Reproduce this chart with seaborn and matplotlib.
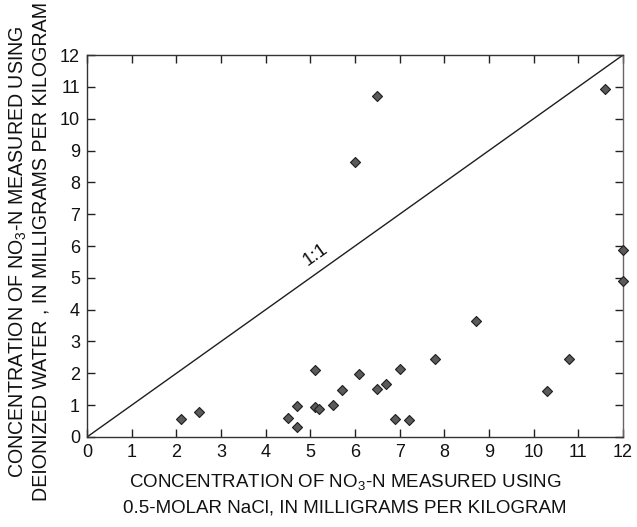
import matplotlib
matplotlib.use("Agg")
import matplotlib.pyplot as plt
import seaborn as sns
import pandas as pd

# NO3-N measured with 0.5-molar NaCl extraction (x) vs deionized water (y), mg/kg
nacl_mgkg = [2.1, 2.5, 4.5, 4.7, 4.7, 5.1, 5.1, 5.2, 5.5, 5.7, 6.1, 6.5, 6.7,
             7.0, 6.9, 7.2, 7.8, 8.7, 10.3, 10.8, 12.0, 12.0, 11.6, 6.5, 6.0]
water_mgkg = [0.55, 0.8, 0.6, 0.97, 0.3, 2.1, 0.95, 0.87, 1.0, 1.47, 1.98, 1.5, 1.66,
              2.14, 0.57, 0.53, 2.44, 3.65, 1.45, 2.46, 4.89, 5.86, 10.92, 10.71, 8.63]
tick_values = list(range(0, 13))

df = pd.DataFrame({"nacl": nacl_mgkg, "water": water_mgkg})

sns.set_theme(style="ticks")
plt.rcParams["font.family"] = ["Liberation Sans", "DejaVu Sans"]
plt.rcParams["mathtext.fontset"] = "custom"
plt.rcParams["mathtext.rm"] = "Liberation Sans"
plt.rcParams["mathtext.it"] = "Liberation Sans"
plt.rcParams["mathtext.default"] = "regular"

fig, ax = plt.subplots(figsize=(6.37, 5.27), dpi=100)
fig.subplots_adjust(left=0.1366, right=0.978, top=0.8956, bottom=0.1708)

# 1:1 reference line
ax.plot([0, 12], [0, 12], color="#1e1e1e", lw=1.0, zorder=2)
ax.text(5.12, 5.72, "1:1", rotation=35.5, ha="center", va="center",
        fontsize=13.5, color="#111111")

sns.scatterplot(data=df, x="nacl", y="water", ax=ax, marker="D", s=26,
                color="#5a5a5a", edgecolor="#1e1e1e", linewidth=0.8,
                zorder=3, clip_on=False, legend=False)

ax.set_xlim(0, 12)
ax.set_ylim(0, 12)
ax.set_xticks(tick_values)
ax.set_yticks(tick_values)
ax.tick_params(direction="in", length=5.5, width=1, colors="#222222",
               labelcolor="#111111", labelsize=13,
               top=True, right=True, pad=5)
for side in ["left", "bottom", "top"]:
    ax.spines[side].set_color("#333333")
    ax.spines[side].set_linewidth(1.0)
ax.spines["right"].set_color("#666666")
ax.spines["right"].set_linewidth(1.0)

ax.set_xlabel("CONCENTRATION OF NO$_3$-N MEASURED USING\n"
              "0.5-MOLAR NaCl, IN MILLIGRAMS PER KILOGRAM",
              fontsize=13.5, color="#111111", linespacing=1.6)
ax.xaxis.set_label_coords(0.481, -0.092, transform=ax.transAxes)
ax.xaxis.label.set_va("top")
ax.set_ylabel("CONCENTRATION OF NO$_3$-N MEASURED USING\n"
              "DEIONIZED WATER , IN MILLIGRAMS PER KILOGRAM",
              fontsize=14.1, color="#111111", linespacing=1.15)
ax.yaxis.set_label_coords(29 / 637, 0.523, transform=fig.transFigure)
ax.yaxis.label.set_va("center")

fig.savefig("out.png", dpi=100, facecolor="white")
